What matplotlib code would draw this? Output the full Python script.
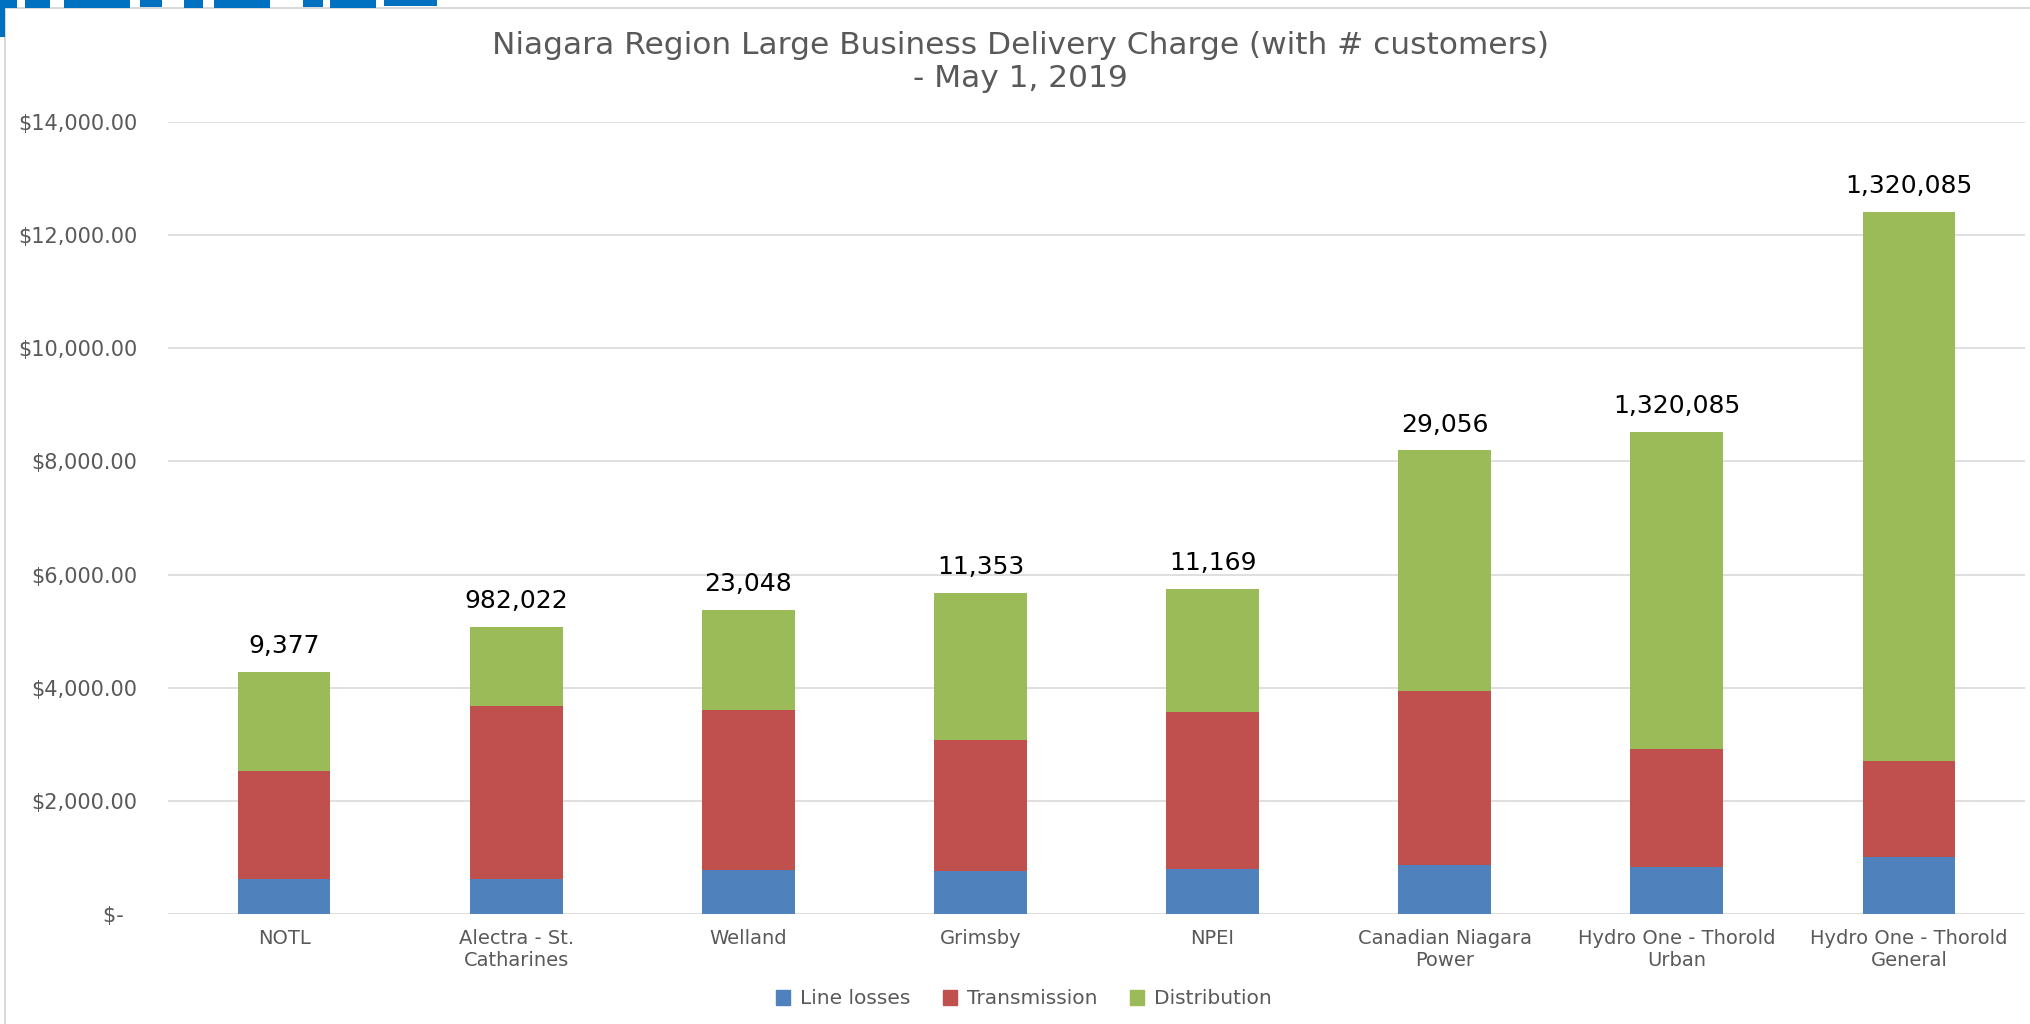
import matplotlib
matplotlib.use("Agg")
import matplotlib.pyplot as plt
from matplotlib.patches import Patch, Rectangle

categories = ["NOTL", "Alectra - St.\nCatharines", "Welland", "Grimsby", "NPEI",
              "Canadian Niagara\nPower", "Hydro One - Thorold\nUrban",
              "Hydro One - Thorold\nGeneral"]
line_losses = [616, 616, 774, 757, 792, 862, 827, 1003]
transmission = [1906, 3056, 2827, 2322, 2774, 3085, 2094, 1695]
distribution = [1760, 1410, 1781, 2603, 2181, 4248, 5594, 9716]
customers = [9377, 982022, 23048, 11353, 11169, 29056, 1320085, 1320085]
yticks = [0, 2000, 4000, 6000, 8000, 10000, 12000, 14000]

c_loss = "#4F81BD"
c_trans = "#C0504D"
c_dist = "#9BBB59"
grey = "#595959"

plt.rcParams['font.family'] = ['DejaVu Sans']

W, H = 2030, 1024
fig = plt.figure(figsize=(W / 100, H / 100), dpi=100)
ax = fig.add_axes([168 / W, 1 - 914 / H, (2025 - 168) / W, (914 - 122) / H])

x = list(range(len(categories)))
bw = 0.40
base2 = [a + b for a, b in zip(line_losses, transmission)]
ax.bar(x, line_losses, bw, color=c_loss, zorder=3)
ax.bar(x, transmission, bw, bottom=line_losses, color=c_trans, zorder=3)
ax.bar(x, distribution, bw, bottom=base2, color=c_dist, zorder=3)

tops = [a + b for a, b in zip(base2, distribution)]
for xi, t, n in zip(x, tops, customers):
    ax.annotate(f"{n:,}", (xi, t), xytext=(0, 10), textcoords="offset points",
                ha="center", va="bottom", fontsize=18, color="black")

ax.set_xlim(-0.5, len(categories) - 0.5)
ax.set_ylim(0, 14000)
ax.set_yticks(yticks)
ax.set_yticklabels(["$-  "] + [f"${v:,.2f}" for v in yticks[1:]])
ax.set_xticks(x)
ax.set_xticklabels(categories)
ax.tick_params(axis="y", length=0, pad=22, labelsize=15, labelcolor=grey)
ax.tick_params(axis="x", length=0, pad=11, labelsize=14, labelcolor=grey)
for lbl in ax.get_xticklabels():
    lbl.set_linespacing(1.15)
ax.grid(axis="y", color="#D9D9D9", linewidth=1.2, zorder=0)
for s in ax.spines.values():
    s.set_visible(False)

fig.text(1020 / W, 1 - 62 / H, "Niagara Region Large Business Delivery Charge (with # customers)\n- May 1, 2019",
         ha="center", va="center", fontsize=22.5, color=grey, linespacing=1.2)

handles = [Patch(color=c_loss, label="Line losses"),
           Patch(color=c_trans, label="Transmission"),
           Patch(color=c_dist, label="Distribution")]
fig.legend(handles=handles, loc="center", bbox_to_anchor=(1024 / W, 1 - 999 / H),
           ncol=3, frameon=False, fontsize=14.5, labelcolor=grey,
           handlelength=0.7, handleheight=0.7, handletextpad=0.5, columnspacing=1.6)

# chart frame and the clipped logo strip above it
fig.patches.append(Rectangle((5 / W, -0.01), 1.0, 1 - 8 / H + 0.01, transform=fig.transFigure,
                             fill=False, edgecolor="#D9D9D9", linewidth=1.5))
logo = [(0, 5, 37), (5, 17, 8), (25, 50, 8), (64, 130, 8), (140, 162, 7), (184, 203, 8),
        (214, 270, 8), (303, 323, 7), (330, 376, 8), (384, 437, 6)]
for x0, x1, y1 in logo:
    fig.patches.append(Rectangle((x0 / W, 1 - y1 / H), (x1 - x0) / W, y1 / H,
                                 transform=fig.transFigure, color="#0070C0", linewidth=0))

fig.savefig("out.png", dpi=100)
